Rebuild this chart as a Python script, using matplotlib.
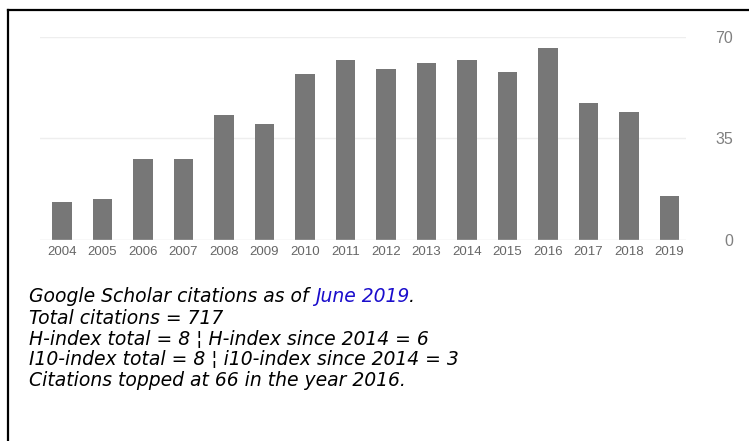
import matplotlib
matplotlib.use("Agg")
import matplotlib.pyplot as plt
from matplotlib.lines import Line2D

years = ['2004', '2005', '2006', '2007', '2008', '2009', '2010', '2011',
         '2012', '2013', '2014', '2015', '2016', '2017', '2018', '2019']
citations = [13, 14, 28, 28, 43, 40, 57, 62, 59, 61, 62, 58, 66, 47, 44, 15]
y_ticks = [0, 35, 70]

info_lines = [
    'Total citations = 717',
    'H-index total = 8 \u00a6 H-index since 2014 = 6',
    'I10-index total = 8 \u00a6 i10-index since 2014 = 3',
    'Citations topped at 66 in the year 2016.',
]

W, H = 749, 441
fig = plt.figure(figsize=(W / 100, H / 100), dpi=100)
fig.patch.set_facecolor('white')

# plot area in pixels: x 40..686, y 36.7..240 (from top)
ax = fig.add_axes([40 / W, 1 - 240 / H, (686 - 40) / W, (240 - 36.7) / H])
x = list(range(len(years)))
ax.bar(x, citations, width=0.48, color='#777777', zorder=3)

ax.set_xlim(-0.54, 15.41)
ax.set_ylim(0, 70)
ax.set_xticks(x)
ax.set_xticklabels(years, fontsize=9.5, color='#666666', family='Liberation Sans')
ax.yaxis.tick_right()
ax.set_yticks(y_ticks)
ax.set_yticklabels([str(v) for v in y_ticks], fontsize=11.5, color='#808080',
                   family='Liberation Sans', ha='right')
ax.tick_params(axis='y', length=0, pad=34)
ax.tick_params(axis='x', length=0, pad=4)
for s in ax.spines.values():
    s.set_visible(False)
for v in y_ticks[1:]:
    ax.axhline(v, color='#eeeeee', lw=1, zorder=1)
ax.axhline(0, color='#dddddd', lw=1, zorder=4)

# border, clipped at right and bottom edges
fig.add_artist(Line2D([8 / W, 8 / W], [0, 1 - 10 / H], color='black', lw=1.6,
                      transform=fig.transFigure))
fig.add_artist(Line2D([8 / W, 1], [1 - 10 / H, 1 - 10 / H], color='black', lw=1.6,
                      transform=fig.transFigure))

fs = 13.5
tx = 29 / W
y0 = 297
step = 21
style = dict(fontsize=fs, style='italic', family='DejaVu Sans', va='center')

renderer = fig.canvas.get_renderer()
t1 = fig.text(tx, 1 - y0 / H, 'Google Scholar citations as of ', color='black', **style)
e1 = t1.get_window_extent(renderer)
t2 = fig.text(e1.x1 / W, 1 - y0 / H, 'June 2019', color='#1a0dcc', **style)
e2 = t2.get_window_extent(renderer)
fig.text(e2.x1 / W, 1 - y0 / H, '.', color='black', **style)

for i, line in enumerate(info_lines):
    fig.text(tx, 1 - (y0 + step * (i + 1)) / H, line, color='black', **style)

fig.savefig('out.png', dpi=100)
